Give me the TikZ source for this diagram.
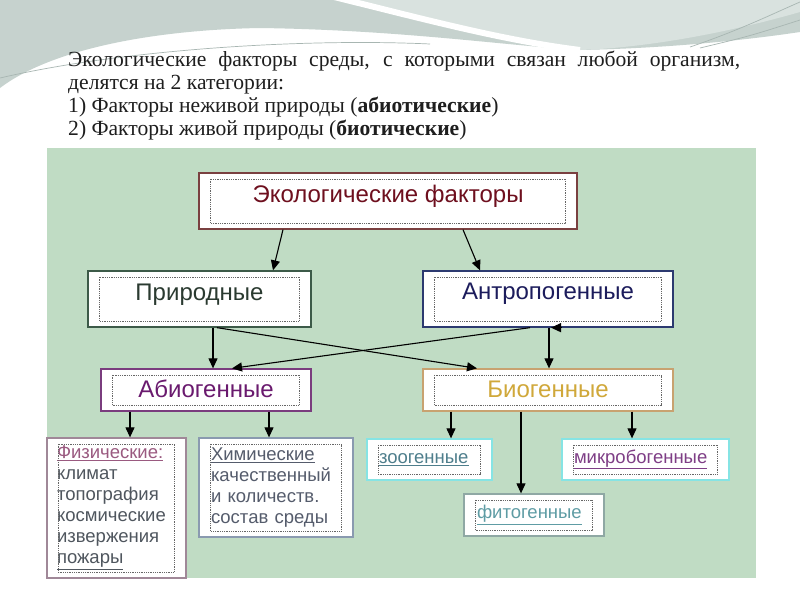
\documentclass[tikz,border=0pt]{standalone}
\usepackage{fontspec}
\setmainfont{Liberation Serif}
\newfontfamily\diagfont{Liberation Sans}
\usetikzlibrary{arrows.meta}
\definecolor{panel}{HTML}{C0DCC4}
\definecolor{decoA}{HTML}{C6D2CE}
\definecolor{decoB}{HTML}{D9E2DF}
\definecolor{decoL}{HTML}{A8B6B2}
\definecolor{hdrT}{HTML}{1E1E1E}
\definecolor{ecoB}{HTML}{7A4040}
\definecolor{ecoT}{HTML}{6E0F1E}
\definecolor{prirB}{HTML}{3C5A48}
\definecolor{prirT}{HTML}{2A3A30}
\definecolor{antrB}{HTML}{2C3A70}
\definecolor{antrT}{HTML}{1C1C5C}
\definecolor{abioB}{HTML}{7A3C7E}
\definecolor{abioT}{HTML}{6A1A6E}
\definecolor{bioB}{HTML}{C8A270}
\definecolor{bioT}{HTML}{D0A83A}
\definecolor{fizB}{HTML}{A08898}
\definecolor{fizH}{HTML}{9A5A80}
\definecolor{fizT}{HTML}{4F565E}
\definecolor{himB}{HTML}{8A9AB0}
\definecolor{himT}{HTML}{555C6C}
\definecolor{cyanB}{HTML}{86E4E4}
\definecolor{zooT}{HTML}{4E7E8C}
\definecolor{mikT}{HTML}{7E3E86}
\definecolor{fitoB}{HTML}{8FA8A4}
\definecolor{fitoT}{HTML}{5E9CA4}
\newcommand\dotinset[1]{\draw[innerdot] ([xshift=12pt,yshift=-6.5pt]#1.north west) rectangle ([xshift=-12pt,yshift=6.5pt]#1.south east);}
\begin{document}
\begin{tikzpicture}[x=1pt,y=-1pt,
  hdr/.style={inner sep=0pt, text=hdrT, font=\fontsize{21.6}{23}\selectfont},
  box/.style={draw, fill=white, line width=1.3pt, inner sep=0pt, font=\diagfont\fontsize{24}{28}\selectfont},
  sbox/.style={draw, fill=white, line width=1.3pt, inner sep=0pt, align=left, font=\diagfont\fontsize{18.5}{21}\selectfont},
  arr/.style={-{Triangle[length=10pt,width=9pt]}, line width=1.1pt, black},
  innerdot/.style={draw=black!60, line width=0.7pt, dash pattern=on 0.9pt off 0.9pt}]
\useasboundingbox (0,0) rectangle (800,600);
\fill[white] (0,0) rectangle (800,600);
% top decoration
\fill[decoA] (0,0) -- (800,0) -- (800,32) .. controls (760,38) and (680,48) .. (580,50) .. controls (500,45) and (400,30) .. (260,28) .. controls (150,30) and (50,50) .. (0,88) -- cycle;
\fill[decoB] (340,0) -- (800,0) -- (800,12) .. controls (720,35) and (640,48) .. (580,50) .. controls (500,40) and (420,18) .. (340,0) -- cycle;
\draw[white, line width=6pt] (330,-4) .. controls (420,18) and (500,40) .. (580,50);
\draw[decoL, line width=0.7pt] (0,78) .. controls (120,50) and (300,38) .. (430,44);
\draw[decoL, line width=0.7pt] (690,47) .. controls (740,30) and (770,15) .. (800,2);
\draw[decoL, line width=0.7pt] (700,48) .. controls (750,36) .. (800,20);
% header text
\node[hdr, anchor=base west] (h1) at (68,66) {\makebox[672pt][s]{Экологические факторы  среды,  с  которыми  связан  любой  организм,}};
\node[hdr, anchor=base west] (h2) at (68,89) {делятся на 2 категории:};
\node[hdr, anchor=base west] (h3) at (68,112) {1) Факторы неживой природы (\textbf{абиотические})};
\node[hdr, anchor=base west] (h4) at (68,135) {2) Факторы живой природы (\textbf{биотические})};
% panel
\fill[panel] (47,148) rectangle (756,578);
% main boxes
\node[box, draw=ecoB, text=ecoT, minimum width=378pt, minimum height=56pt, text height=15pt, text depth=12pt] (eco) at (388,201) {Экологические факторы};
\node[box, draw=prirB, text=prirT, minimum width=223pt, minimum height=56pt, text height=15pt, text depth=13pt] (prir) at (199.5,299) {Природные};
\node[box, draw=antrB, text=antrT, minimum width=250pt, minimum height=56pt, text height=14pt, text depth=14pt] (antr) at (548,299) {Антропогенные};
\node[box, draw=abioB, text=abioT, minimum width=210pt, minimum height=42pt, text height=15.5pt, text depth=1pt] (abio) at (206,390) {Абиогенные};
\node[box, draw=bioB, text=bioT, minimum width=250pt, minimum height=42pt, text height=15.5pt, text depth=1pt] (bio) at (548,390) {Биогенные};
% lower boxes
\node[sbox, draw=fizB, text=fizT, minimum width=139pt, minimum height=140pt, text width=119pt] (fiz) at (116.5,508)
  {{\color{fizH}\underline{Физические:}}\\климат\\топография\\космические\\извержения\\\underline{пожары}};
\node[sbox, draw=himB, text=himT, minimum width=154pt, minimum height=99pt, text width=130pt] (him) at (276,487.5)
  {\underline{Химические}\\качественный\\и количеств.\\состав среды};
\node[sbox, draw=cyanB, text=zooT, minimum width=125pt, minimum height=41pt, text width=101pt] (zoo) at (429.5,459.5) {\underline{зоогенные}};
\node[sbox, draw=cyanB, text=mikT, minimum width=167pt, minimum height=41pt, text width=143pt] (mik) at (645.5,459.5) {\underline{микробогенные}};
\node[sbox, draw=fitoB, text=fitoT, minimum width=140pt, minimum height=42pt, text width=114pt] (fito) at (534,515) {\underline{фитогенные}};
% inner dotted frames
\dotinset{eco}\dotinset{prir}\dotinset{antr}\dotinset{abio}\dotinset{bio}
\dotinset{fiz}\dotinset{him}\dotinset{zoo}\dotinset{mik}\dotinset{fito}
% connectors
\draw[arr] ([xshift=-105pt]eco.south) -- ([xshift=73.5pt]prir.north);
\draw[arr] ([xshift=75pt]eco.south) -- ([xshift=-68pt]antr.north);
\draw[arr] ([xshift=13.5pt]prir.south) -- ([xshift=7pt]abio.north);
\draw[arr] ([xshift=1pt]antr.south) -- ([xshift=1pt]bio.north);
\draw[arr] ([xshift=17.5pt]prir.south) -- ([xshift=-71pt]bio.north);
\draw[arr] ([xshift=-18pt]antr.south) -- ([xshift=26pt]abio.north);
\draw[arr] ([xshift=14pt]antr.south) -- ([xshift=3pt]antr.south);
\draw[arr] ([xshift=-76pt]abio.south) -- ([xshift=13.5pt]fiz.north);
\draw[arr] ([xshift=63pt]abio.south) -- ([xshift=-7pt]him.north);
\draw[arr] ([xshift=-97pt]bio.south) -- ([xshift=21.5pt]zoo.north);
\draw[arr] ([xshift=-27pt]bio.south) -- ([xshift=-13pt]fito.north);
\draw[arr] ([xshift=84pt]bio.south) -- ([xshift=-13.5pt]mik.north);
\end{tikzpicture}
\end{document}
